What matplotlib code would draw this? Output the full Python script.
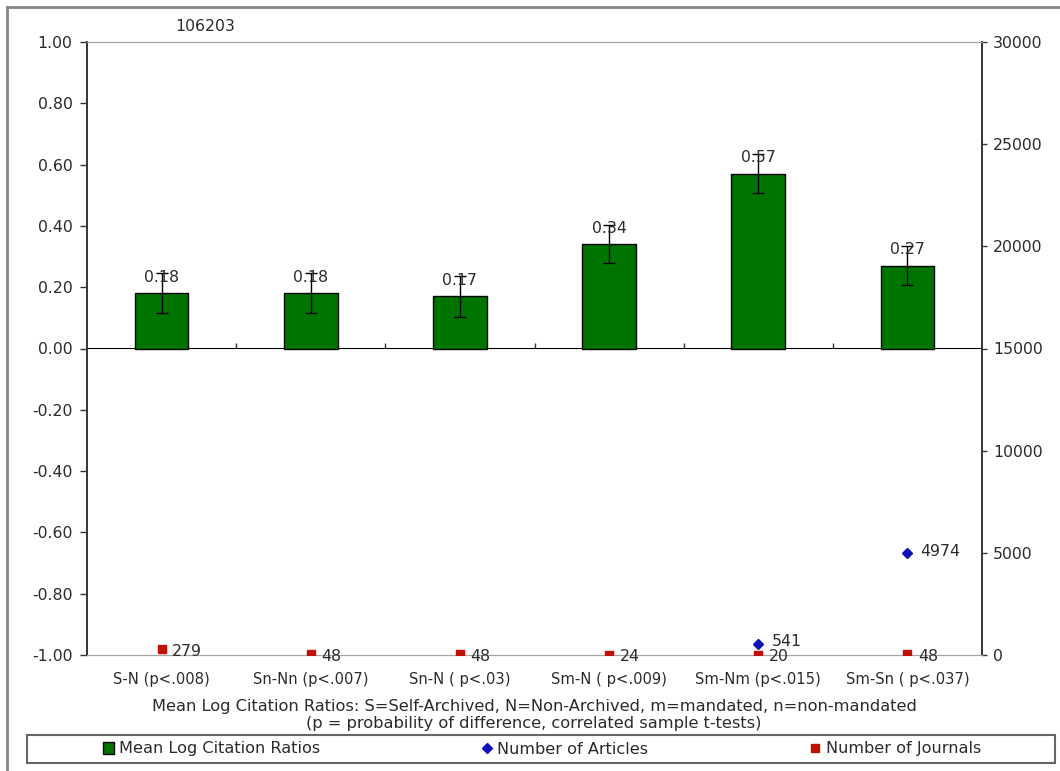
import numpy as np
import matplotlib
matplotlib.use("Agg")
import matplotlib.pyplot as plt
from matplotlib.lines import Line2D
from matplotlib.patches import Rectangle

plt.rcParams['font.family'] = ['DejaVu Sans']
plt.rcParams['font.size'] = 10

# --- data -------------------------------------------------------------
categories = ["S-N (p<.008)", "Sn-Nn (p<.007)", "Sn-N ( p<.03)",
              "Sm-N ( p<.009)", "Sm-Nm (p<.015)", "Sm-Sn ( p<.037)"]
mean_log_ratio = [0.18, 0.18, 0.17, 0.34, 0.57, 0.27]
ratio_error = [0.065, 0.065, 0.067, 0.062, 0.064, 0.064]
num_articles = [106203, np.nan, np.nan, np.nan, 541, 4974]
num_journals = [279, 48, 48, 24, 20, 48]

left_ticks = [-1.0, -0.8, -0.6, -0.4, -0.2, 0.0, 0.2, 0.4, 0.6, 0.8, 1.0]
right_ticks = [0, 5000, 10000, 15000, 20000, 25000, 30000]

xlabel_text = ("Mean Log Citation Ratios: S=Self-Archived, N=Non-Archived, "
               "m=mandated, n=non-mandated\n"
               "(p = probability of difference, correlated sample t-tests)")

# --- styling ----------------------------------------------------------
W, H = 1060, 771
TEXT = "#2e2a2a"
DARK = "#3a3232"
LIGHT = "#a8a4a4"
GREEN = "#007400"
BLUE = "#1010b8"
RED = "#c01008"
NUM_FS = 11.3
CAT_FS = 10.6
TITLE_FS = 11.7
LEG_FS = 11.6

fig = plt.figure(figsize=(W / 100, H / 100), dpi=100)
fig.patch.set_facecolor("white")

ax = fig.add_axes([87 / W, (H - 655) / H, (982 - 87) / W, (655 - 42) / H])
ax2 = ax.twinx()

x = np.arange(len(categories))

# bars with error bars
ax.bar(x, mean_log_ratio, width=0.36, color=GREEN, edgecolor="black",
       linewidth=1.0, zorder=2, label="Mean Log Citation Ratios")
ax.errorbar(x, mean_log_ratio, yerr=ratio_error, fmt="none", ecolor="black",
            elinewidth=1.0, capsize=4.5, capthick=1.0, zorder=3)
for xi, v in zip(x, mean_log_ratio):
    ax.annotate(f"{v:.2f}", (xi, v), xytext=(0, 11.5), textcoords="offset points",
                ha="center", va="center", color=TEXT, fontsize=NUM_FS, zorder=4)

ax.set_xlim(-0.5, len(categories) - 0.5)
ax.set_ylim(-1.0, 1.0)
ax.set_yticks(left_ticks)
ax.set_yticklabels([f"{t:.2f}" for t in left_ticks])
ax.set_xticks(x)
ax.set_xticklabels(categories)
ax.tick_params(axis="x", length=0, pad=12, colors=TEXT, labelsize=CAT_FS)
ax.tick_params(axis="y", direction="out", length=5, width=1, pad=5.5,
               colors=DARK, labelcolor=TEXT, labelsize=NUM_FS)

# category axis crossing at zero
cat_axis = ax.secondary_xaxis(0.5)
cat_axis.set_xticks(np.arange(0.5, len(categories) - 0.5, 1.0))
cat_axis.set_xticklabels([])
cat_axis.tick_params(axis="x", direction="out", length=3.5, width=1, colors=DARK)
cat_axis.spines["bottom"].set_color(DARK)
cat_axis.spines["bottom"].set_linewidth(1.2)

# secondary series on the right axis
ax2.set_ylim(0, 30000)
ax2.set_yticks(right_ticks)
ax2.set_yticklabels([str(t) for t in right_ticks])
ax2.tick_params(axis="y", direction="out", length=3.8, width=1, pad=4,
                colors=DARK, labelcolor=TEXT, labelsize=NUM_FS)

ax2.plot(x, num_articles, linestyle="none", marker="D", markersize=5.5,
         color=BLUE, zorder=5, label="Number of Articles")
ax2.plot(x, num_journals, linestyle="none", marker="s", markersize=6.3,
         color=RED, zorder=4, label="Number of Journals")

top = ax2.get_ylim()[1]
for xi, v in zip(x, num_articles):
    if np.isnan(v):
        continue
    if v > top:
        ax2.annotate(f"{int(v)}", (xi, top), xytext=(9.5, 11), textcoords="offset points",
                     ha="left", va="center", color=TEXT, fontsize=NUM_FS,
                     annotation_clip=False)
    else:
        ax2.annotate(f"{int(v)}", (xi, v), xytext=(9.5, 1.5), textcoords="offset points",
                     ha="left", va="center", color=TEXT, fontsize=NUM_FS)
for xi, v in zip(x, num_journals):
    ax2.annotate(f"{int(v)}", (xi, v), xytext=(7.5, -1.5), textcoords="offset points",
                 ha="left", va="center", color=TEXT, fontsize=NUM_FS)

for a in (ax, ax2):
    a.spines["top"].set_color(LIGHT)
    a.spines["bottom"].set_color(LIGHT)
    a.spines["left"].set_color(DARK)
    a.spines["right"].set_color(DARK)
    a.spines["left"].set_linewidth(1.2)
    a.spines["right"].set_linewidth(1.2)
ax.set_zorder(2)
ax.patch.set_visible(False)
ax2.set_zorder(3)

# axis title below the category labels
fig.text(534 / W, (H - 715) / H, xlabel_text, ha="center", va="center",
         multialignment="center", color=TEXT, fontsize=TITLE_FS, linespacing=1.2)

# legend box spanning the width
fig.add_artist(Rectangle((27 / W, (H - 763) / H), (1055 - 27) / W, 28 / H,
                         transform=fig.transFigure, fill=False,
                         edgecolor="#6a6464", linewidth=1.5))
handles = ax.get_legend_handles_labels()[0][:1] + ax2.get_legend_handles_labels()[0]
labels = ["Mean Log Citation Ratios", "Number of Articles", "Number of Journals"]
fig.legend(handles, labels, loc="center", bbox_to_anchor=(542 / W, (H - 749) / H),
           ncol=3, frameon=False, columnspacing=10.0, handlelength=0.7,
           handletextpad=0.3, fontsize=LEG_FS, labelcolor=TEXT)

# outer chart border
fig.add_artist(Line2D([7 / W, 7 / W], [0, (H - 7) / H], transform=fig.transFigure,
                      color="#8a8484", linewidth=2))
fig.add_artist(Line2D([7 / W, 1], [(H - 7) / H, (H - 7) / H], transform=fig.transFigure,
                      color="#8a8484", linewidth=2))

fig.savefig("out.png", dpi=100, facecolor="white")
